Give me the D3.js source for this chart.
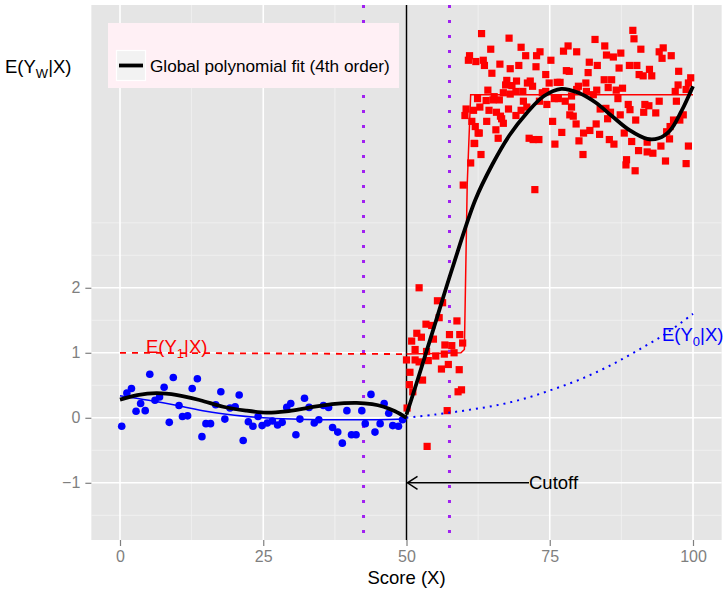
<!DOCTYPE html>
<html>
<head>
<meta charset="utf-8">
<script src="https://cdn.jsdelivr.net/npm/d3@7"></script>
<style>
  html, body { margin: 0; padding: 0; background: #ffffff; }
  svg { display: block; font-family: "Liberation Sans", Arial, Helvetica, sans-serif; }
</style>
</head>
<body>
<svg id="chart" width="725" height="589"></svg>
<script>
// ---- data ---------------------------------------------------------------
const cutoff = 50;
const bandwidthEdges = [42.5, 57.5];

// untreated observations (score below cutoff)
const controlPoints = [
  [0.3,-0.13],[1.2,0.38],[2.0,0.45],[2.8,0.10],[3.6,0.22],[4.4,0.11],[5.2,0.67],[6.1,0.27],
  [6.9,0.32],[7.7,0.47],[8.6,-0.07],[9.3,0.62],[10.3,0.19],[10.9,0.02],[11.8,0.03],[12.6,0.45],
  [13.5,0.60],[14.3,-0.29],[15.0,-0.09],[15.8,-0.09],[16.7,0.20],[17.6,0.40],[18.3,-0.02],[19.2,0.15],
  [20.1,0.17],[20.8,0.35],[21.5,-0.35],[22.4,-0.06],[23.2,-0.13],[24.1,0.02],[24.8,-0.12],[25.7,-0.08],
  [26.6,-0.05],[27.5,-0.11],[28.3,-0.07],[29.1,0.16],[29.8,0.22],[30.7,-0.26],[31.4,-0.02],[32.2,0.30],
  [33.0,0.16],[33.9,-0.08],[34.7,-0.03],[35.5,0.19],[36.4,0.16],[37.1,-0.15],[38.0,-0.22],[38.8,-0.39],
  [39.6,0.11],[40.4,-0.26],[41.2,-0.26],[42.2,0.11],[42.8,-0.09],[43.8,0.36],[44.5,-0.22],[45.4,-0.09],
  [46.1,0.22],[46.9,0.07],[47.6,-0.12],[48.6,-0.13],[49.3,-0.03]
];

// treated observations (score at or above cutoff)
const treatedPoints = [
  [52.2,2.0],[55.4,1.80],[56.3,1.77],[55.7,1.54],[53.4,1.44],[54.4,1.42],[58.8,1.49],[51.8,1.30],
  [52.6,1.24],[54.7,1.21],[50.9,1.18],[57.5,1.28],[59.3,1.28],[59.8,1.15],[56.7,1.12],[57.9,1.11],
  [51.5,1.05],[53.5,1.02],[55.1,0.95],[56.6,0.98],[58.3,1.0],[50.0,0.89],[51.5,0.89],[52.2,0.86],
  [53.8,0.88],[56.1,0.75],[57.3,0.82],[59.2,0.74],[50.6,0.70],[52.8,0.58],[50.5,0.51],[51.1,0.40],
  [59.0,0.40],[59.6,0.43],[50.1,0.15],[57.1,0.11],[53.6,-0.44],
  [63.1,5.91],[67.9,5.84],[70.0,5.70],[64.7,5.67],[61.0,5.57],[60.8,5.50],[62.1,5.48],[63.4,5.50],
  [63.6,5.42],[66.3,5.44],[64.9,5.30],[68.1,5.37],[69.6,5.42],[70.8,5.57],[72.7,5.57],[73.3,5.63],
  [72.6,5.40],[75.2,5.50],[74.3,5.28],[77.4,5.64],[78.2,5.72],[79.7,5.63],[77.9,5.34],[78.4,5.33],
  [82.9,5.82],[84.6,5.72],[84.9,5.58],[86.1,5.55],[87.4,5.61],[81.9,5.47],[83.3,5.42],[81.7,5.31],
  [87.1,5.38],[88.9,5.42],[90.2,5.42],[89.5,5.96],[89.7,5.83],[90.9,5.67],[92.4,5.36],[90.6,5.28],
  [91.3,5.26],[92.8,5.26],[94.1,5.63],[94.8,5.69],[94.6,5.53],[96.2,5.57],[97.5,5.33],[99.6,5.23],
  [99.2,5.15],[97.4,5.12],[96.9,5.02],[98.8,5.05],[97.1,4.87],[98.3,4.66],[97.7,4.58],[96.6,4.58],
  [96.0,4.48],[95.4,4.40],[95.9,4.29],[94.4,4.18],[99.2,4.18],[95.2,3.95],[98.8,3.91],[94.1,4.87],
  [93.5,4.69],[92.3,4.80],[91.4,4.70],[91.6,4.82],[90.0,4.58],[89.0,4.74],[88.7,4.82],[87.7,5.07],
  [86.6,5.04],[86.9,4.91],[87.3,4.66],[88.0,4.38],[89.3,4.25],[90.5,4.11],[92.0,4.09],[93.0,4.07],
  [92.0,4.24],[88.4,3.97],[88.3,3.89],[89.9,3.80],[85.4,4.28],[86.2,4.21],[85.1,4.60],[85.6,4.70],
  [84.8,4.76],[83.8,4.75],[83.1,4.52],[83.7,4.36],[82.0,4.42],[80.9,4.38],[80.1,4.26],[80.8,4.05],
  [79.6,4.52],[79.1,4.64],[78.5,4.66],[78.8,4.78],[77.1,4.39],[75.9,4.21],[75.5,4.56],[73.1,4.28],
  [72.1,4.28],[71.4,4.30],[72.4,3.51],[82.6,4.97],[83.2,5.04],[84.5,5.20],[85.8,5.20],[85.2,5.08],
  [81.4,5.02],[81.3,5.15],[80.0,5.10],[79.7,5.05],[78.8,4.95],[76.8,5.16],[76.3,5.16],[74.9,5.15],
  [74.3,5.02],[73.7,5.00],[75.8,4.91],[76.5,4.91],[77.7,4.87],[73.2,4.87],[74.5,4.82],[71.6,5.18],
  [71.1,5.15],[72.0,5.10],[70.3,5.02],[69.2,5.18],[69.1,5.02],[68.4,5.11],[67.5,5.19],[67.3,5.12],
  [66.9,5.00],[68.1,4.98],[64.2,5.04],[65.3,4.94],[66.2,4.89],[65.1,4.89],[63.9,4.88],[62.4,4.91],
  [62.8,4.78],[61.7,4.73],[60.4,4.75],[60.2,4.65],[64.4,4.73],[65.7,4.70],[66.4,4.64],[67.8,4.75],
  [69.1,4.65],[70.0,4.73],[70.4,4.87],[71.0,4.78],[61.4,4.56],[62.0,4.48],[64.0,4.56],[66.9,4.53],
  [62.7,4.38],[65.6,4.43],[66.0,4.30],[61.9,4.22],[63.0,4.05],[61.2,3.92],[59.9,3.58],[62.5,4.38],
  [61.8,4.22],[66.6,4.60]
];

// E(Y1|X): constant extension left of the cutoff, observed step to the right
const y1Extended = [[0,1.0],[50,0.98]];
const y1Observed = [[50,0.98],[55,0.99],[59.5,1.0],[60.1,1.05],[60.6,3.6],[61.2,4.97],[100,4.97]];

// E(Y0|X): observed smooth left of the cutoff, extrapolation to the right
const y0Observed = [[0,0.34],[5,0.27],[10,0.19],[15,0.10],[20,0.04],[25,0.0],[30,-0.02],[35,-0.03],[40,-0.03],[45,-0.03],[50,-0.02]];
const y0Extended = [[50,0.0],[55,0.05],[60,0.11],[65,0.18],[70,0.28],[75,0.42],[80,0.58],[85,0.78],[90,1.02],[95,1.28],[100,1.6]];

// global 4th-order polynomial fits on each side of the cutoff
const fitLeft = [[0,0.28],[3,0.35],[6.4,0.38],[10,0.35],[14,0.27],[18,0.17],[22,0.11],[25.6,0.08],[29,0.10],[32.6,0.15],[37,0.21],[41.3,0.23],[44,0.21],[46,0.17],[48,0.10],[50,0.0]];
const fitRight = [[50,0.05],[52,0.6],[55,1.45],[58,2.3],[62,3.35],[65,3.9],[68,4.35],[71,4.69],[74,4.95],[77,5.06],[80,5.0],[83,4.85],[86,4.63],[89,4.42],[92,4.29],[94,4.3],[96,4.42],[98,4.72],[100,5.1]];

const xTicks = [0, 25, 50, 75, 100];
const xMinor = [12.5, 37.5, 62.5, 87.5];
const yTicks = [-1, 0, 1, 2];
const yMinor = [-1.5, -0.5, 0.5, 1.5, 2.5, 3];

const legendLabel = "Global polynomial fit (4th order)";

// ---- layout -------------------------------------------------------------
const svg = d3.select("#chart");
const panel = { left: 91.35, right: 721.65, top: 5, bottom: 540 };

const x = d3.scaleLinear().domain([-5, 105]).range([panel.left, panel.right]);
const y = d3.scaleLinear().domain([-1.88, 6.35]).range([panel.bottom, panel.top]);

const defs = svg.append("defs");
defs.append("clipPath").attr("id", "panel-clip")
  .append("rect")
  .attr("x", panel.left).attr("y", panel.top)
  .attr("width", panel.right - panel.left).attr("height", panel.bottom - panel.top);

// panel background
svg.append("rect")
  .attr("x", panel.left).attr("y", panel.top)
  .attr("width", panel.right - panel.left).attr("height", panel.bottom - panel.top)
  .attr("fill", "#e5e5e5");

// grid lines
const grid = svg.append("g");
grid.selectAll(".xminor").data(xMinor).join("line")
  .attr("x1", d => x(d)).attr("x2", d => x(d))
  .attr("y1", panel.top).attr("y2", panel.bottom)
  .attr("stroke", "#f2f2f2").attr("stroke-width", 0.8);
grid.selectAll(".yminor").data(yMinor).join("line")
  .attr("y1", d => y(d)).attr("y2", d => y(d))
  .attr("x1", panel.left).attr("x2", panel.right)
  .attr("stroke", "#f2f2f2").attr("stroke-width", 0.8);
grid.selectAll(".xmajor").data(xTicks).join("line")
  .attr("x1", d => x(d)).attr("x2", d => x(d))
  .attr("y1", panel.top).attr("y2", panel.bottom)
  .attr("stroke", "#ffffff").attr("stroke-width", 1.6);
grid.selectAll(".ymajor").data(yTicks).join("line")
  .attr("y1", d => y(d)).attr("y2", d => y(d))
  .attr("x1", panel.left).attr("x2", panel.right)
  .attr("stroke", "#ffffff").attr("stroke-width", 1.6);

// axes
const xAxis = d3.axisBottom(x).tickValues(xTicks).tickSize(6).tickPadding(5).tickFormat(d3.format("d"));
const yAxis = d3.axisLeft(y).tickValues(yTicks).tickSize(6).tickPadding(5)
  .tickFormat(d => d < 0 ? "\u2212" + Math.abs(d) : String(d));

const gx = svg.append("g").attr("transform", `translate(0,${panel.bottom})`).call(xAxis);
const gy = svg.append("g").attr("transform", `translate(${panel.left},0)`).call(yAxis);
[gx, gy].forEach(g => {
  g.select(".domain").remove();
  g.selectAll(".tick line").attr("stroke", "#7f7f7f").attr("stroke-width", 1.2);
  g.selectAll(".tick text").attr("fill", "#7f7f7f").style("font-size", "16px");
});

// axis title
svg.append("text")
  .attr("x", x(50)).attr("y", 584)
  .attr("text-anchor", "middle")
  .style("font-size", "18.5px").attr("fill", "#000")
  .text("Score (X)");

// plotting layer
const plot = svg.append("g").attr("clip-path", "url(#panel-clip)");

// bandwidth edges and cutoff
plot.selectAll(".band").data(bandwidthEdges).join("line")
  .attr("x1", d => x(d)).attr("x2", d => x(d))
  .attr("y1", panel.top).attr("y2", panel.bottom)
  .attr("stroke", "#a020f0").attr("stroke-width", 3)
  .attr("stroke-dasharray", "3,12");
plot.append("line")
  .attr("x1", x(cutoff)).attr("x2", x(cutoff))
  .attr("y1", panel.top).attr("y2", panel.bottom)
  .attr("stroke", "#000").attr("stroke-width", 1.5);

// observations
plot.selectAll(".ctl").data(controlPoints).join("circle")
  .attr("cx", d => x(d[0])).attr("cy", d => y(d[1]))
  .attr("r", 3.8).attr("fill", "#0000ff");
const sq = 7.2;
plot.selectAll(".trt").data(treatedPoints).join("rect")
  .attr("x", d => x(d[0]) - sq / 2).attr("y", d => y(d[1]) - sq / 2)
  .attr("width", sq).attr("height", sq).attr("fill", "#ff0000");

const lineLin = d3.line().x(d => x(d[0])).y(d => y(d[1]));
const lineSmooth = d3.line().x(d => x(d[0])).y(d => y(d[1])).curve(d3.curveCatmullRom.alpha(0.5));

// conditional expectation curves
plot.append("path").datum(y1Extended).attr("d", lineLin)
  .attr("fill", "none").attr("stroke", "#ff0000").attr("stroke-width", 1.8)
  .attr("stroke-dasharray", "6,6");
plot.append("path").datum(y1Observed).attr("d", lineLin)
  .attr("fill", "none").attr("stroke", "#ff0000").attr("stroke-width", 1.5);
plot.append("path").datum(y0Observed).attr("d", lineSmooth)
  .attr("fill", "none").attr("stroke", "#0000ff").attr("stroke-width", 1.5);
plot.append("path").datum(y0Extended).attr("d", lineSmooth)
  .attr("fill", "none").attr("stroke", "#0000ff").attr("stroke-width", 2)
  .attr("stroke-dasharray", "2,5");

// polynomial fits
[fitLeft, fitRight].forEach(seg => {
  plot.append("path").datum(seg).attr("d", lineSmooth)
    .attr("fill", "none").attr("stroke", "#000").attr("stroke-width", 3.8)
    .attr("stroke-linecap", "butt");
});

// curve labels
function subLabel(xPos, yPos, color, sub) {
  const t = svg.append("text").attr("x", xPos).attr("y", yPos)
    .attr("fill", color).style("font-size", "18.5px");
  t.append("tspan").text("E(Y");
  t.append("tspan").attr("dy", 5).style("font-size", "13px").text(sub);
  t.append("tspan").attr("dy", -5).text("|X)");
  return t;
}
subLabel(146, 353, "#ff0000", "1");
subLabel(662, 341, "#0000ff", "0");

// cutoff annotation
const arrowY = y(-1);
svg.append("line")
  .attr("x1", 529).attr("x2", x(cutoff) + 1)
  .attr("y1", arrowY).attr("y2", arrowY)
  .attr("stroke", "#000").attr("stroke-width", 1.5);
svg.append("path")
  .attr("d", `M${x(cutoff) + 11},${arrowY - 6.5} L${x(cutoff) + 1},${arrowY} L${x(cutoff) + 11},${arrowY + 6.5}`)
  .attr("fill", "none").attr("stroke", "#000").attr("stroke-width", 1.5);
svg.append("text")
  .attr("x", 529).attr("y", arrowY + 6.5)
  .style("font-size", "18.5px").attr("fill", "#000")
  .text("Cutoff");

// outcome label at top left
const yl = svg.append("text").attr("x", 5).attr("y", 73).style("font-size", "18.5px").attr("fill", "#000");
yl.append("tspan").text("E(Y");
yl.append("tspan").attr("dy", 5).style("font-size", "13px").text("W");
yl.append("tspan").attr("dy", -5).text("|X)");

// legend
const lg = svg.append("g");
lg.append("rect").attr("x", 108).attr("y", 23).attr("width", 291).attr("height", 65)
  .attr("fill", "#fff0f5");
lg.append("rect").attr("x", 116.5).attr("y", 50.5).attr("width", 29).attr("height", 30)
  .attr("fill", "#f2f2f2").attr("stroke", "#ffffff").attr("stroke-width", 1.2);
lg.append("line").attr("x1", 119).attr("x2", 143).attr("y1", 65.5).attr("y2", 65.5)
  .attr("stroke", "#000").attr("stroke-width", 3.8);
lg.append("text").attr("x", 150).attr("y", 71.5)
  .style("font-size", "17.2px").attr("fill", "#000")
  .text(legendLabel);
</script>
</body>
</html>
